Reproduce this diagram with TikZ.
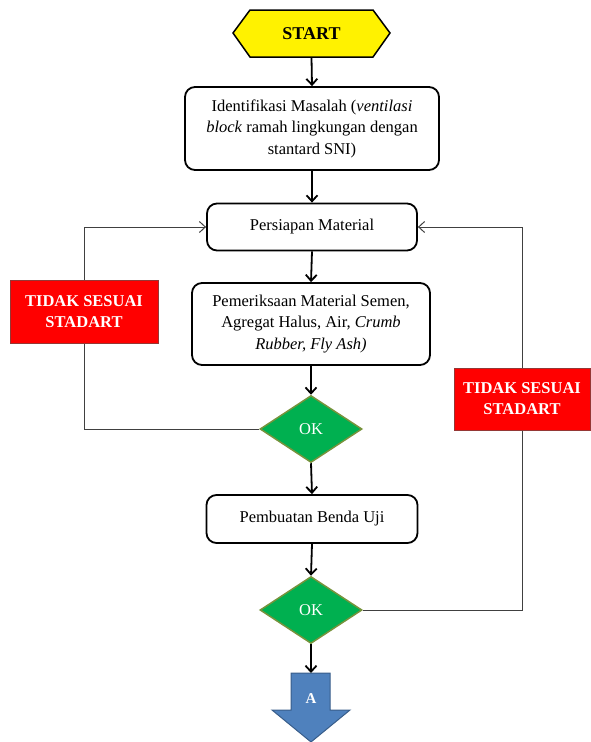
\documentclass[tikz,border=0pt]{standalone}
\usepackage{fontspec}
\setmainfont{Liberation Serif}
\usetikzlibrary{arrows.meta,shapes.geometric}
\definecolor{okgreen}{HTML}{00B050}
\definecolor{okborder}{HTML}{77933C}
\definecolor{redbox}{HTML}{FF0000}
\definecolor{redborder}{HTML}{953735}
\definecolor{arrowblue}{HTML}{4F81BD}
\definecolor{arrowborder}{HTML}{385D8A}
\definecolor{loopgray}{HTML}{404040}
\tikzset{
  procbox/.style={draw=black, line width=1.8pt, rounded corners=10pt, fill=white, align=center, font=\fontsize{16.5}{21.5}\selectfont, inner sep=0pt},
  decbox/.style={diamond, draw=okborder, line width=1.5pt, fill=okgreen, text=white, font=\fontsize{16.5}{18}\selectfont, inner sep=0pt, minimum width=102pt, minimum height=67pt, aspect=1.5},
  failbox/.style={draw=redborder, line width=1pt, fill=redbox, text=white, font=\bfseries\fontsize{16.5}{21}\selectfont, align=center, inner sep=0pt},
  mainarrow/.style={line width=1.8pt, -{Straight Barb[length=6pt,width=11pt,line width=1.8pt]}},
  loopline/.style={draw=loopgray, line width=1pt},
  looparrow/.style={draw=loopgray, line width=1pt, -{Straight Barb[length=6pt,width=11pt,line width=1pt]}},
}
\begin{document}
\begin{tikzpicture}[x=1pt,y=-1pt]
\useasboundingbox (0,0) rectangle (590,742);
% START hexagon
\draw[fill=yellow, line width=1.5pt] (233,33) -- (250,10) -- (373,10) -- (390,33) -- (373,57) -- (250,57) -- cycle;
\node[font=\bfseries\fontsize{18}{20}\selectfont, minimum width=140pt, minimum height=47pt, inner sep=0pt] (start) at (311.5,33.5) {START};
% process boxes
\node[procbox, minimum width=254pt, minimum height=83pt] (ident) at (312,128.5)
  {Identifikasi Masalah (\textit{ventilasi}\\ \textit{block} ramah lingkungan dengan\\ stantard SNI)};
\node[procbox, minimum width=210pt, minimum height=47pt] (prep) at (312,227) {Persiapan Material};
\node[procbox, minimum width=238pt, minimum height=82pt] (check) at (311,324)
  {Pemeriksaan Material Semen,\\ Agregat Halus, Air, \textit{Crumb}\\ \textit{Rubber, Fly Ash)}};
\node[decbox] (ok1) at (311,429) {OK};
\node[procbox, minimum width=211pt, minimum height=48pt] (make) at (312,519) {Pembuatan Benda Uji};
\node[decbox] (ok2) at (311,610) {OK};
% fail boxes
\node[failbox, minimum width=148pt, minimum height=63pt] (fail1) at (84,311.5) {TIDAK SESUAI\\ STADART};
\node[failbox, minimum width=136pt, minimum height=62pt] (fail2) at (522,399) {TIDAK SESUAI\\ STADART};
% output arrow A
\draw[fill=arrowblue, draw=arrowborder, line width=1pt] (291,673) -- (330,673) -- (330,710) -- (350,710) -- (311,742) -- (272,710) -- (291,710) -- cycle;
\node[text=white, font=\bfseries\fontsize{15}{16}\selectfont, inner sep=0pt] (a) at (311,699) {A};
\coordinate (atop) at (311,673);
% main flow
\draw[mainarrow] (start.south) -- (ident.north);
\draw[mainarrow] (ident.south) -- (prep.north);
\draw[mainarrow] (prep.south) -- (check.north);
\draw[mainarrow] (check.south) -- (ok1.north);
\draw[mainarrow] (ok1.south) -- (make.north);
\draw[mainarrow] (make.south) -- (ok2.north);
\draw[mainarrow] (ok2.south) -- (atop);
% loops
\draw[loopline] (ok1.west) -| (fail1.south);
\draw[looparrow] (fail1.north) |- (prep.west);
\draw[loopline] (ok2.east) -| (fail2.south);
\draw[looparrow] (fail2.north) |- (prep.east);
\end{tikzpicture}
\end{document}
